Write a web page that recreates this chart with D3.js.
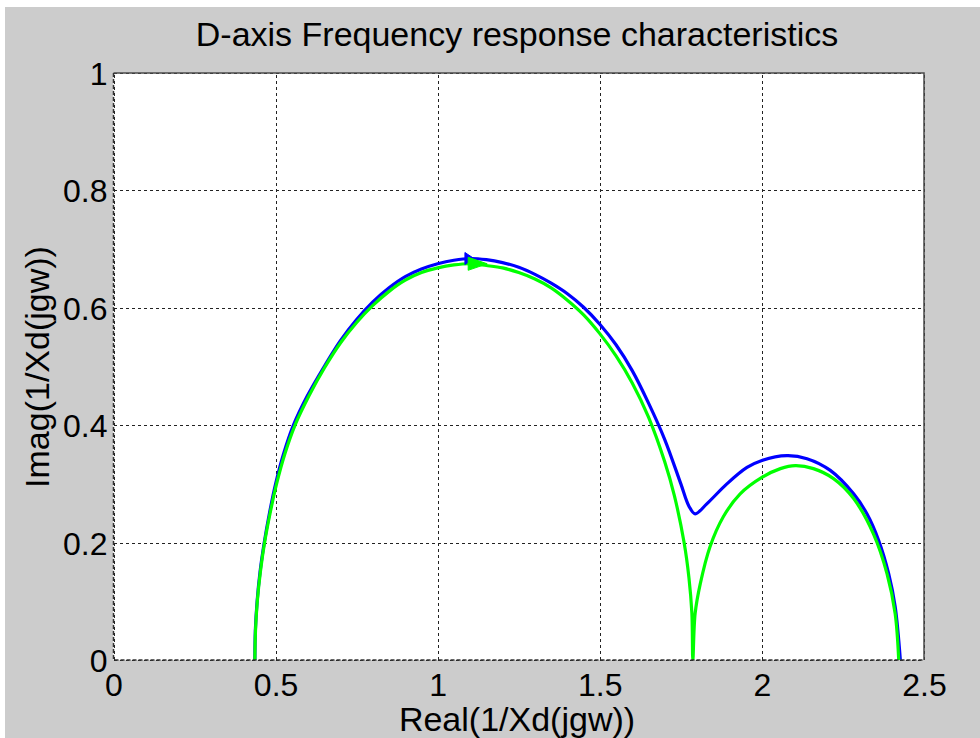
<!DOCTYPE html>
<html>
<head>
<meta charset="utf-8">
<script src="https://cdn.jsdelivr.net/npm/d3@7"></script>
<style>
  html, body { margin: 0; padding: 0; background: #ffffff; }
  svg { display: block; }
  text { font-family: Arial, "Liberation Sans", sans-serif; fill: #000; }
</style>
</head>
<body>
<svg id="chart" width="980" height="738"></svg>
<script>
// Nyquist-style frequency response of 1/Xd(jw), d-axis
const xTicks = [0, 0.5, 1, 1.5, 2, 2.5];
const yTicks = [0, 0.2, 0.4, 0.6, 0.8, 1];
const xTickLabels = ["0", "0.5", "1", "1.5", "2", "2.5"];
const yTickLabels = ["0", "0.2", "0.4", "0.6", "0.8", "1"];

// Blue trace: real and imaginary parts
const blueReal = [0.436, 0.4375, 0.443, 0.452, 0.465, 0.481, 0.500, 0.524, 0.555, 0.598, 0.65, 0.7, 0.75, 0.8, 0.85, 0.9, 0.95, 1.0, 1.05, 1.1, 1.15, 1.2, 1.25, 1.3, 1.35, 1.4, 1.45, 1.5, 1.55, 1.6, 1.65, 1.7, 1.75, 1.775, 1.794, 1.830, 1.892, 1.954, 2.0, 2.077, 2.139, 2.211, 2.283, 2.324, 2.360, 2.391, 2.411, 2.427];
const blueImag = [0, 0.05, 0.1, 0.15, 0.2, 0.25, 0.3, 0.35, 0.4, 0.45, 0.5, 0.544, 0.580, 0.610, 0.634, 0.653, 0.666, 0.675, 0.681, 0.684, 0.682, 0.677, 0.669, 0.657, 0.642, 0.624, 0.601, 0.572, 0.537, 0.493, 0.438, 0.376, 0.300, 0.262, 0.249, 0.266, 0.300, 0.328, 0.340, 0.348, 0.343, 0.323, 0.283, 0.249, 0.204, 0.147, 0.091, 0];

// Green trace: real and imaginary parts
const greenReal = [0.436, 0.438, 0.4435, 0.453, 0.466, 0.483, 0.503, 0.528, 0.560, 0.603, 0.65, 0.7, 0.75, 0.8, 0.85, 0.9, 0.95, 1.0, 1.05, 1.1, 1.15, 1.2, 1.25, 1.3, 1.35, 1.4, 1.45, 1.5, 1.55, 1.6, 1.65, 1.7, 1.73, 1.76, 1.775, 1.784, 1.787, 1.794, 1.810, 1.840, 1.881, 1.933, 2.0, 2.057, 2.103, 2.159, 2.221, 2.283, 2.344, 2.386, 2.411, 2.422];
const greenImag = [0, 0.05, 0.1, 0.15, 0.2, 0.25, 0.3, 0.35, 0.4, 0.45, 0.497, 0.540, 0.575, 0.604, 0.628, 0.647, 0.660, 0.668, 0.673, 0.675, 0.672, 0.668, 0.660, 0.649, 0.634, 0.613, 0.588, 0.556, 0.518, 0.472, 0.414, 0.338, 0.280, 0.200, 0.14, 0.08, 0, 0.079, 0.130, 0.193, 0.244, 0.283, 0.311, 0.326, 0.331, 0.326, 0.309, 0.275, 0.215, 0.147, 0.079, 0];

// Direction arrows placed on each trace (real, imag)
const arrowReal = [1.084, 1.094];
const arrowImag = [0.684, 0.675];

const svg = d3.select("#chart");
const W = 980, H = 738;

// figure background (grey panel with a thin white strip at top/left)
svg.append("rect").attr("x", 0).attr("y", 0).attr("width", W).attr("height", H).attr("fill", "#ffffff");
svg.append("rect").attr("x", 5).attr("y", 7).attr("width", W - 5).attr("height", H - 7).attr("fill", "#cccccc");

const pLeft = 113.5, pRight = 924, pTop = 73, pBottom = 660;
const x = d3.scaleLinear().domain([0, 2.5]).range([pLeft, pRight]);
const y = d3.scaleLinear().domain([0, 1]).range([pBottom, pTop]);

// axes area
svg.append("rect").attr("x", pLeft).attr("y", pTop).attr("width", pRight - pLeft).attr("height", pBottom - pTop).attr("fill", "#ffffff");

svg.append("defs").append("clipPath").attr("id", "plotclip")
  .append("rect").attr("x", pLeft - 2).attr("y", pTop).attr("width", pRight - pLeft + 4).attr("height", pBottom - pTop);

// grid lines
const gridX = svg.append("g").attr("transform", `translate(0,${pBottom})`)
  .call(d3.axisBottom(x).tickValues(xTicks).tickSize(-(pBottom - pTop)).tickFormat(""));
gridX.select(".domain").remove();
gridX.selectAll("line").attr("stroke", "#222").attr("stroke-width", 1).attr("stroke-dasharray", "3,3")
  .attr("shape-rendering", "crispEdges");

const gridY = svg.append("g").attr("transform", `translate(${pLeft},0)`)
  .call(d3.axisLeft(y).tickValues(yTicks).tickSize(-(pRight - pLeft)).tickFormat(""));
gridY.select(".domain").remove();
gridY.selectAll("line").attr("stroke", "#222").attr("stroke-width", 1).attr("stroke-dasharray", "3,3")
  .attr("shape-rendering", "crispEdges");

// box: solid top and right edges
svg.append("path")
  .attr("d", `M${pLeft},${pTop}H${pRight}V${pBottom}`)
  .attr("fill", "none").attr("stroke", "#4a4a4a").attr("stroke-width", 1.5);

// tick labels
const xLab = svg.append("g").attr("transform", `translate(0,${pBottom})`)
  .call(d3.axisBottom(x).tickValues(xTicks).tickSize(0).tickPadding(0)
    .tickFormat((d, i) => xTickLabels[i]));
xLab.select(".domain").remove();
xLab.selectAll("text").attr("font-size", 32).attr("dy", null).attr("y", 36)
  .style("font-family", "Arial, 'Liberation Sans', sans-serif").attr("fill", "#000");

const yLab = svg.append("g").attr("transform", `translate(${pLeft},0)`)
  .call(d3.axisLeft(y).tickValues(yTicks).tickSize(0).tickPadding(0)
    .tickFormat((d, i) => yTickLabels[i]));
yLab.select(".domain").remove();
yLab.selectAll("text").attr("font-size", 32).attr("x", -6).attr("dy", "0.36em")
  .style("font-family", "Arial, 'Liberation Sans', sans-serif").attr("fill", "#000");

// curves
const line = d3.line().x(d => x(d[0])).y(d => y(d[1])).curve(d3.curveCatmullRom.alpha(0.5));
const blue = blueReal.map((v, i) => [v, blueImag[i]]);
const green = greenReal.map((v, i) => [v, greenImag[i]]);

const plot = svg.append("g").attr("clip-path", "url(#plotclip)");
plot.append("path").datum(blue).attr("d", line)
  .attr("fill", "none").attr("stroke", "#0000ff").attr("stroke-width", 3.2).attr("stroke-linejoin", "round");
plot.append("path").datum(green).attr("d", line)
  .attr("fill", "none").attr("stroke", "#00ff00").attr("stroke-width", 3.2).attr("stroke-linejoin", "round");

// arrowheads pointing in the direction of increasing frequency
const arrowColors = ["#0000ff", "#00ff00"];
const arrowLen = [9, 19], arrowHalf = [6, 6.5];
arrowReal.forEach((r, i) => {
  const bx = x(r), by = y(arrowImag[i]);
  const L = arrowLen[i], h = arrowHalf[i];
  svg.append("path")
    .attr("d", `M${bx},${by - h}L${bx + L},${by}L${bx},${by + h}Z`)
    .attr("fill", arrowColors[i]).attr("stroke", arrowColors[i]).attr("stroke-width", 1);
});

// left and bottom edges (dashed, like the grid)
svg.append("path")
  .attr("d", `M${pLeft},${pTop}V${pBottom}H${pRight}`)
  .attr("fill", "none").attr("stroke", "#333").attr("stroke-width", 1.5).attr("stroke-dasharray", "4,2");

// title and axis labels
svg.append("text").attr("x", 517).attr("y", 46).attr("text-anchor", "middle")
  .attr("font-size", 34).text("D-axis Frequency response characteristics");
svg.append("text").attr("x", 517).attr("y", 731).attr("text-anchor", "middle")
  .attr("font-size", 34).text("Real(1/Xd(jgw))");
svg.append("text").attr("transform", "translate(49,367) rotate(-90)").attr("text-anchor", "middle")
  .attr("font-size", 34).text("Imag(1/Xd(jgw))");
</script>
</body>
</html>
